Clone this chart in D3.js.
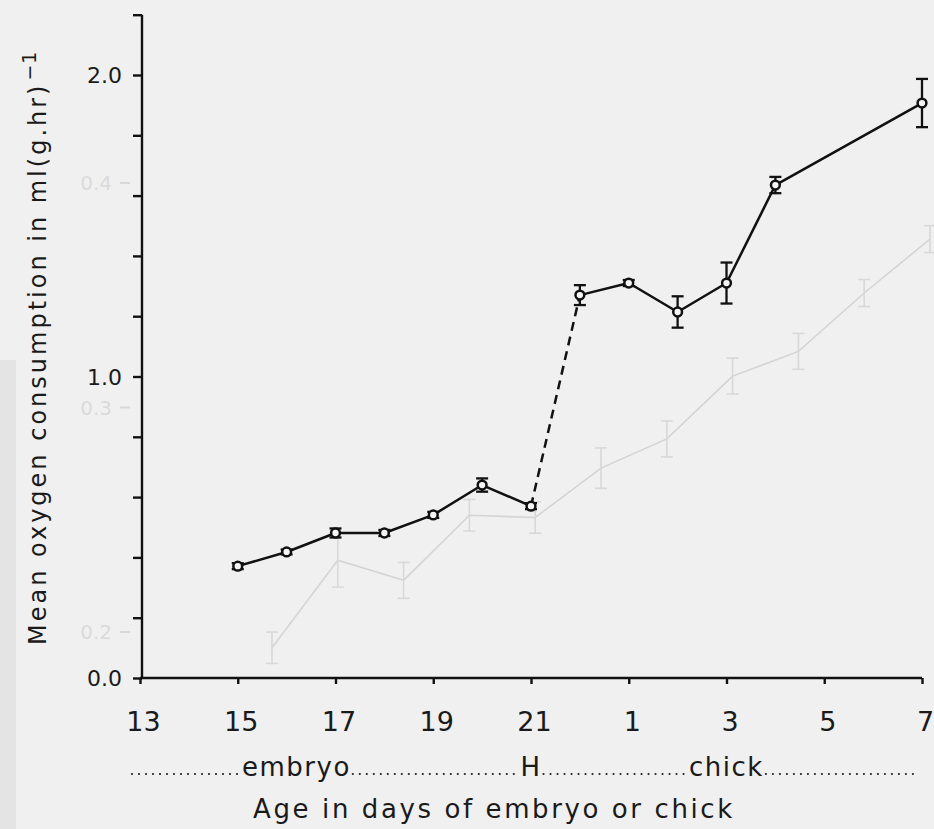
<!DOCTYPE html>
<html>
<head>
<meta charset="utf-8">
<script src="https://cdn.jsdelivr.net/npm/d3@7"></script>
<style>
  html, body { margin: 0; padding: 0; background: #f0f0f0; }
  svg { display: block; }
  text { font-family: "DejaVu Sans", "Noto Sans", sans-serif; fill: #1a1a1a; }
</style>
</head>
<body>
<svg id="chart" width="934" height="829"></svg>
<script>
// Continuous day count along the x axis: embryo day d sits at d,
// hatching (H) at 22, chick day n at 22 + n.
const ageDays   = [15, 16, 17, 18, 19, 20, 21, 22, 23, 24, 25, 26, 29];
const meanO2    = [0.371, 0.418, 0.481, 0.481, 0.541, 0.640, 0.570, 1.270, 1.310, 1.214, 1.310, 1.635, 1.907];
const errO2     = [0.010, 0.008, 0.015, 0.010, 0.010, 0.022, 0.010, 0.033, 0.010, 0.052, 0.068, 0.027, 0.080];

// Axis ticks and labels
const xTickDays   = [13, 15, 17, 19, 21, 23, 25, 27, 29];
const xTickLabels = ["13", "15", "17", "19", "21", "1", "3", "5", "7"];
const yTickValues = [0, 0.2, 0.4, 0.6, 0.8, 1.0, 1.2, 1.4, 1.6, 1.8, 2.0, 2.2];
const yLabelled   = [0, 1, 2];

// Stage names under the axis, with the day they are centred on
const stageNames = ["embryo", "H", "chick"];
const stageDays  = [16.2, 21, 25];

// Faint series printed through from the facing page
const ghostIndex  = [0, 1, 2, 3, 4, 5, 6, 7, 8, 9, 10];
const ghostValues = [0.193, 0.232, 0.223, 0.252, 0.251, 0.273, 0.286, 0.314, 0.325, 0.351, 0.375];
const ghostErr    = [0.007, 0.012, 0.008, 0.007, 0.007, 0.009, 0.008, 0.008, 0.008, 0.006, 0.006];
const ghostTicks  = [0.2, 0.3, 0.4];

const svg = d3.select("#chart");

const x = d3.scaleLinear().domain([13, 29]).range([140, 922]);
const y = d3.scaleLinear().domain([0, 2.2]).range([678, 14.7]);

const gx = d3.scaleLinear().domain([0, 10]).range([272, 930]);
const gy = d3.scaleLinear().domain([0.2, 0.4]).range([632, 183]);

// ---- faint show-through layer ----
const ghost = svg.append("g").attr("class", "ghost");
ghost.append("rect").attr("x", 0).attr("y", 360).attr("width", 16).attr("height", 469)
  .attr("fill", "#e4e4e4");
ghost.selectAll("text.gt").data(ghostTicks).join("text")
  .attr("class", "gt")
  .attr("x", 112).attr("y", d => gy(d) + 7)
  .attr("text-anchor", "end")
  .style("font-size", "20px").style("fill", "#dadada")
  .text(d => d.toFixed(1));
ghost.selectAll("line.gtk").data(ghostTicks).join("line")
  .attr("class", "gtk")
  .attr("x1", 120).attr("x2", 130).attr("y1", d => gy(d)).attr("y2", d => gy(d))
  .attr("stroke", "#d8d8d8").attr("stroke-width", 2);
ghost.append("path")
  .datum(ghostIndex.map((i, k) => [i, ghostValues[k]]))
  .attr("fill", "none").attr("stroke", "#d4d4d4").attr("stroke-width", 1.6)
  .attr("d", d3.line().x(d => gx(d[0])).y(d => gy(d[1])));
const gBars = ghost.selectAll("g.gb").data(ghostIndex).join("g").attr("class", "gb")
  .attr("stroke", "#d8d8d8").attr("stroke-width", 1.6);
gBars.append("line")
  .attr("x1", i => gx(i)).attr("x2", i => gx(i))
  .attr("y1", (i, k) => gy(ghostValues[k] + ghostErr[k]))
  .attr("y2", (i, k) => gy(ghostValues[k] - ghostErr[k]));
gBars.append("line")
  .attr("x1", i => gx(i) - 6).attr("x2", i => gx(i) + 6)
  .attr("y1", (i, k) => gy(ghostValues[k] + ghostErr[k]))
  .attr("y2", (i, k) => gy(ghostValues[k] + ghostErr[k]));
gBars.append("line")
  .attr("x1", i => gx(i) - 6).attr("x2", i => gx(i) + 6)
  .attr("y1", (i, k) => gy(ghostValues[k] - ghostErr[k]))
  .attr("y2", (i, k) => gy(ghostValues[k] - ghostErr[k]));

// ---- axes ----
const yAxis = d3.axisLeft(y).tickValues(yTickValues).tickSize(9)
  .tickFormat(d => yLabelled.some(v => Math.abs(v - d) < 1e-9) ? d.toFixed(1) : "");
const yg = svg.append("g").attr("transform", "translate(142,0)").call(yAxis);
yg.select(".domain").attr("d", `M0,${y(2.2)}V${y(0)}`).attr("stroke", "#111").attr("stroke-width", 2.4);
yg.selectAll(".tick line").attr("stroke", "#111").attr("stroke-width", 2.4);
yg.selectAll(".tick text").attr("x", -20).attr("dy", "0.36em")
  .style("font-size", "22px").style("font-family", "'DejaVu Sans', sans-serif").attr("fill", "#1a1a1a");

const xAxis = d3.axisBottom(x).tickValues(xTickDays).tickSize(6)
  .tickFormat((d, i) => xTickLabels[i]);
const xg = svg.append("g").attr("transform", `translate(0,${y(0)})`).call(xAxis);
xg.select(".domain").attr("d", `M${x(13)},0H${x(29)}`).attr("stroke", "#111").attr("stroke-width", 2.4);
xg.selectAll(".tick line").attr("stroke", "#111").attr("stroke-width", 2.4);
xg.selectAll(".tick text").attr("x", 3).attr("y", 34).attr("dy", "0.71em")
  .style("font-size", "27px").style("font-family", "'DejaVu Sans', sans-serif").attr("fill", "#1a1a1a");

// ---- main series ----
const pts = ageDays.map((d, i) => ({ day: d, v: meanO2[i], e: errO2[i], i }));
const line = d3.line().x(d => x(d.day)).y(d => y(d.v));
const hatchAt = ageDays.indexOf(22);

svg.append("path").datum(pts.slice(0, hatchAt))
  .attr("fill", "none").attr("stroke", "#111").attr("stroke-width", 2.5)
  .attr("stroke-linejoin", "round").attr("d", line);
svg.append("path").datum(pts.slice(hatchAt - 1, hatchAt + 1))
  .attr("fill", "none").attr("stroke", "#111").attr("stroke-width", 2.5)
  .attr("stroke-dasharray", "9,6").attr("d", line);
svg.append("path").datum(pts.slice(hatchAt))
  .attr("fill", "none").attr("stroke", "#111").attr("stroke-width", 2.5)
  .attr("stroke-linejoin", "round").attr("d", line);

const bars = svg.append("g").attr("stroke", "#111").attr("stroke-width", 2.3)
  .selectAll("g").data(pts).join("g");
bars.append("line")
  .attr("x1", d => x(d.day)).attr("x2", d => x(d.day))
  .attr("y1", d => y(d.v + d.e)).attr("y2", d => y(d.v - d.e));
bars.append("line")
  .attr("x1", d => x(d.day) - 6).attr("x2", d => x(d.day) + 6)
  .attr("y1", d => y(d.v + d.e)).attr("y2", d => y(d.v + d.e));
bars.append("line")
  .attr("x1", d => x(d.day) - 6).attr("x2", d => x(d.day) + 6)
  .attr("y1", d => y(d.v - d.e)).attr("y2", d => y(d.v - d.e));

svg.append("g").selectAll("circle").data(pts).join("circle")
  .attr("cx", d => x(d.day)).attr("cy", d => y(d.v)).attr("r", 4.4)
  .attr("fill", "#f6f6f6").attr("stroke", "#111").attr("stroke-width", 2.5);

// ---- stage row: words joined by dotted leaders ----
const rowY = 776;
const stageG = svg.append("g");
const words = stageG.selectAll("text").data(stageNames).join("text")
  .attr("x", (d, i) => x(stageDays[i])).attr("y", rowY)
  .attr("text-anchor", "middle")
  .style("font-size", "26px").style("letter-spacing", "1.5px")
  .text(d => d);
const boxes = [];
words.each(function () { boxes.push(this.getBBox()); });
const gaps = [[x(13) - 8, boxes[0].x - 2]];
for (let i = 0; i < boxes.length - 1; i++) gaps.push([boxes[i].x + boxes[i].width + 2, boxes[i + 1].x - 2]);
gaps.push([boxes[boxes.length - 1].x + boxes[boxes.length - 1].width + 2, x(29) - 4]);
stageG.selectAll("line").data(gaps).join("line")
  .attr("x1", d => d[0]).attr("x2", d => d[1]).attr("y1", rowY - 2).attr("y2", rowY - 2)
  .attr("stroke", "#222").attr("stroke-width", 2.2)
  .attr("stroke-linecap", "round").attr("stroke-dasharray", "0,7");

// ---- axis titles ----
svg.append("text")
  .attr("x", 494).attr("y", 818)
  .attr("text-anchor", "middle")
  .style("font-size", "26px").style("letter-spacing", "2.6px")
  .text("Age in days of embryo or chick");

const yTitle = svg.append("text")
  .attr("transform", "translate(46,645) rotate(-90)")
  .style("font-size", "24px").style("letter-spacing", "3px");
yTitle.append("tspan").text("Mean oxygen consumption in ml(g.hr)");
yTitle.append("tspan").attr("dy", "-0.55em").attr("dx", "2").style("font-size", "19px")
  .style("letter-spacing", "1px").text("\u22121");
</script>
</body>
</html>
